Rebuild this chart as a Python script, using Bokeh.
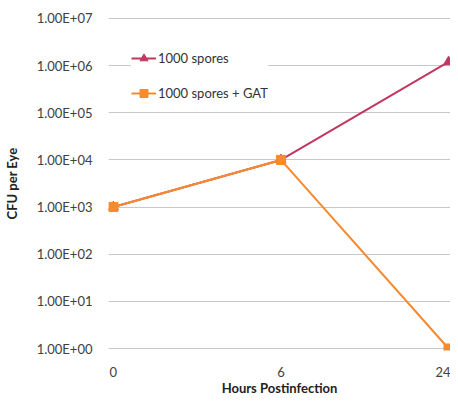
from bokeh.plotting import figure
from bokeh.models import FixedTicker, CustomJSTickFormatter, Range1d, Legend, LegendItem
from bokeh.embed import file_html
from bokeh.resources import INLINE

hours = ["0", "6", "24"]
spores = [1000, 10000, 1.2e6]
spores_gat = [1000, 10000, 1]
y_ticks = [1, 10, 100, 1e3, 1e4, 1e5, 1e6, 1e7]

xs = list(range(len(hours)))

p = figure(width=450, height=398, output_backend="svg", toolbar_location=None,
           y_axis_type="log",
           x_range=Range1d(-0.029, 2.0117),
           y_range=Range1d(10 ** -0.0424, 10 ** 7.0424),
           min_border_left=100, min_border_right=0, min_border_top=16, min_border_bottom=48)
p.outline_line_color = None
p.background_fill_color = "white"
p.border_fill_color = "white"

RED = "#C2375E"
ORANGE = "#F58A2E"

r1 = p.line(xs, spores, line_color=RED, line_width=2)
m1 = p.scatter(xs, spores, marker="triangle", size=10, fill_color=RED, line_color=RED)
r2 = p.line(xs, spores_gat, line_color=ORANGE, line_width=2)
m2 = p.scatter(xs, spores_gat, marker="square", size=9, fill_color=ORANGE, line_color=ORANGE)

# axes
p.xaxis.ticker = FixedTicker(ticks=xs)
p.xaxis.major_label_overrides = {i: h for i, h in enumerate(hours)}
p.yaxis.ticker = FixedTicker(ticks=y_ticks)
p.yaxis.formatter = CustomJSTickFormatter(code="""
var e = Math.round(Math.log10(tick));
var s = (e < 0 ? '-' : '+') + String(Math.abs(e)).padStart(2, '0');
return '1.00E' + s;
""")
for ax in (p.xaxis[0], p.yaxis[0]):
    ax.axis_line_color = None
    ax.major_tick_line_color = None
    ax.minor_tick_line_color = None
    ax.major_label_text_font = "Lato"
    ax.major_label_text_font_size = "13px"
    ax.major_label_text_color = "#404040"
    ax.axis_label_text_font = "Lato"
    ax.axis_label_text_font_style = "bold"
    ax.axis_label_text_font_size = "13px"
    ax.axis_label_text_color = "#222222"

p.xaxis.axis_label = "Hours Postinfection"
p.xaxis.major_label_standoff = 10
p.xaxis.axis_label_standoff = 0
p.yaxis.axis_label = "CFU per Eye"
p.yaxis.major_label_standoff = 10
p.yaxis.axis_label_standoff = 14

p.xgrid.grid_line_color = None
p.ygrid.grid_line_color = "#c8c8c8"
p.ygrid.grid_line_width = 1

legend = Legend(items=[LegendItem(label="1000 spores", renderers=[r1, m1]),
                       LegendItem(label="1000 spores + GAT", renderers=[r2, m2])],
                location=(23, 247))
legend.border_line_color = None
legend.background_fill_color = "white"
legend.background_fill_alpha = 1
legend.padding = 10
legend.spacing = 15
legend.glyph_width = 25
legend.label_standoff = 2
legend.label_text_font = "Lato"
legend.label_text_font_size = "13px"
legend.label_text_color = "#333333"
p.add_layout(legend, "center")

open("out.html", "w").write(file_html(p, INLINE))
